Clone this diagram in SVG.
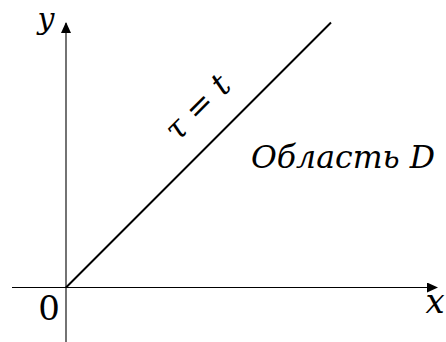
<svg xmlns="http://www.w3.org/2000/svg" width="446" height="342" viewBox="0 0 446 342">
<style>
text{font-family:'DejaVu Serif','Liberation Serif',serif;fill:#000}
.i{font-style:italic}
.ax{stroke:#000;stroke-width:1.1;fill:none}
.ln{stroke:#000;stroke-width:2;fill:none}
</style>
<defs>
<marker id="ah" viewBox="0 0 11 10" refX="10" refY="5" markerWidth="11" markerHeight="10" markerUnits="userSpaceOnUse" orient="auto">
<path d="M0,0 L11,5 L0,10 Z" fill="#000"/>
</marker>
</defs>
<g id="connectors">
<line id="xaxis" class="ax" x1="12" y1="287.5" x2="437" y2="287.5" marker-end="url(#ah)"/>
<line id="yaxis" class="ax" x1="66" y1="342" x2="66" y2="23" marker-end="url(#ah)"/>
<line id="diag" class="ln" x1="66" y1="287.5" x2="331" y2="22.5"/>
</g>
<g id="label-y"><text class="i" x="46" y="29" font-size="30" text-anchor="middle">y</text></g>
<g id="label-x"><text class="i" x="435" y="313" font-size="34" text-anchor="middle">x</text></g>
<g id="label-0"><text x="49" y="320" font-size="34" text-anchor="middle">0</text></g>
<g id="label-tau"><text font-size="32" text-anchor="middle" transform="translate(205,115) rotate(-45)"><tspan class="i">τ</tspan> = <tspan class="i">t</tspan></text></g>
<g id="label-region"><text class="i" x="251" y="168" font-size="32" textLength="184" lengthAdjust="spacingAndGlyphs">Область D</text></g>
</svg>
